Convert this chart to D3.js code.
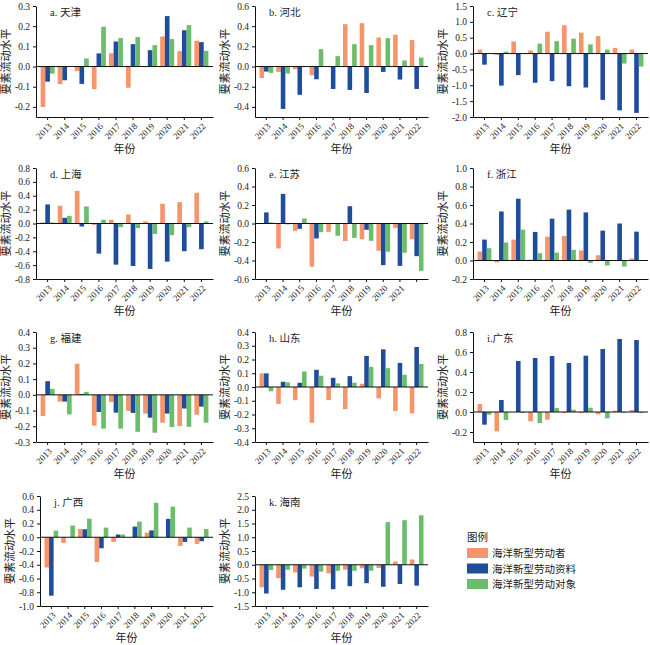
<!DOCTYPE html>
<html><head><meta charset="utf-8">
<script src="https://cdn.jsdelivr.net/npm/d3@7"></script>
<style>
body{margin:0;background:#fff;}
svg text{font-family:"Liberation Serif","Noto Sans CJK SC",serif;fill:#222;}
</style></head>
<body><svg id="chart" width="650" height="645"></svg>
<script>
const years = ["2013","2014","2015","2016","2017","2018","2019","2020","2021","2022"];
const seriesNames = ["海洋新型劳动者","海洋新型劳动资料","海洋新型劳动对象"];
const colors = ["#f4956b","#1f4d9b","#6bbd6b"];
const panelTitles = ["a. 天津","b. 河北","c. 辽宁","d. 上海","e. 江苏","f. 浙江","g. 福建","h. 山东","i.广东","j. 广西","k. 海南"];

// [劳动者, 劳动资料, 劳动对象] per year
const tianjin = [
  [-0.20,-0.087,-0.022,-0.112,0.066,-0.105,0.0,0.149,0.076,0.128],
  [-0.075,-0.068,-0.086,0.065,0.124,0.111,0.081,0.25,0.18,0.121],
  [-0.035,0.0,0.04,0.197,0.141,0.146,0.106,0.136,0.205,0.078]];
const hebei = [
  [-0.113,-0.053,-0.026,-0.086,0.0,0.42,0.43,0.288,0.315,0.262],
  [-0.05,-0.42,-0.28,-0.126,-0.222,-0.232,-0.262,-0.053,-0.129,-0.222],
  [-0.063,-0.07,0.0,0.172,0.103,0.222,0.212,0.281,0.06,0.089]];
const liaoning = [
  [0.125,-0.04,0.38,0.095,0.69,0.89,0.66,0.55,0.18,0.125],
  [-0.35,-1.01,-0.68,-0.92,-0.87,-1.03,-1.07,-1.46,-1.79,-1.87],
  [0.0,0.06,0.0,0.315,0.39,0.47,0.29,0.125,-0.315,-0.41]];
const shanghai = [
  [0.015,0.255,0.47,-0.02,0.053,0.13,0.03,0.284,0.308,0.443],
  [0.275,0.082,-0.043,-0.434,-0.593,-0.612,-0.655,-0.55,-0.40,-0.371],
  [0.015,0.11,0.245,0.053,-0.053,-0.067,-0.15,-0.169,-0.053,0.03]];
const jiangsu = [
  [0.0,-0.27,-0.08,-0.468,-0.09,-0.19,-0.17,-0.295,-0.047,-0.17],
  [0.12,0.32,-0.058,-0.162,0.0,0.187,-0.068,-0.45,-0.458,-0.353],
  [0.012,-0.01,0.054,-0.094,-0.133,-0.155,-0.187,-0.306,-0.317,-0.512]];
const zhejiang = [
  [0.097,-0.02,0.226,0.01,0.258,0.266,0.108,0.057,0.007,0.022],
  [0.226,0.53,0.668,0.309,0.452,0.55,0.52,0.323,0.40,0.312],
  [0.133,0.194,0.334,0.079,0.086,0.115,-0.025,-0.054,-0.065,0.0]];
const fujian = [
  [-0.134,-0.043,0.198,-0.196,-0.045,-0.102,-0.119,-0.177,-0.198,-0.126],
  [0.087,-0.043,0.006,-0.109,-0.113,-0.115,-0.145,-0.119,-0.087,-0.075],
  [0.038,-0.124,0.019,-0.215,-0.215,-0.235,-0.241,-0.205,-0.203,-0.177]];
const shandong = [
  [0.099,-0.123,-0.096,-0.26,-0.094,-0.161,0.024,-0.082,-0.175,-0.192],
  [0.099,0.038,0.031,0.125,0.067,0.079,0.226,0.274,0.175,0.291],
  [-0.031,0.034,0.113,0.082,0.026,0.031,0.147,0.137,0.089,0.168]];
const guangdong = [
  [0.08,-0.193,0.0,-0.093,-0.077,-0.01,-0.01,-0.023,0.013,0.02],
  [-0.127,0.12,0.51,0.54,0.56,0.49,0.563,0.63,0.73,0.72],
  [-0.027,-0.08,-0.01,-0.11,0.04,0.023,0.043,-0.063,-0.007,-0.01]];
const guangxi = [
  [-0.44,-0.082,0.12,-0.36,-0.068,-0.005,0.068,0.0,-0.126,-0.097],
  [-0.85,0.0,0.116,-0.16,0.04,0.155,0.10,0.267,-0.068,-0.058],
  [0.097,0.17,0.27,0.14,0.04,0.228,0.50,0.446,0.14,0.12]];
const hainan = [
  [-0.82,-0.49,-0.28,-0.43,-0.31,-0.18,-0.13,-0.12,0.12,0.19],
  [-1.045,-0.91,-0.82,-0.88,-0.89,-0.78,-0.67,-0.80,-0.70,-0.76],
  [-0.19,-0.18,-0.14,-0.25,-0.22,-0.22,-0.22,1.55,1.62,1.80]];

const panelData = [tianjin,hebei,liaoning,shanghai,jiangsu,zhejiang,fujian,shandong,guangdong,guangxi,hainan];
const yDomains = [[-0.25,0.3],[-0.5,0.6],[-2,1.5],[-0.8,0.8],[-0.6,0.6],[-0.2,1.0],[-0.3,0.4],[-0.4,0.4],[-0.3,0.8],[-1.0,0.6],[-1.5,2.5]];
const yTicks = [
  [-0.2,-0.1,0,0.1,0.2,0.3],
  [-0.4,-0.2,0,0.2,0.4,0.6],
  [-2,-1.5,-1,-0.5,0,0.5,1,1.5],
  [-0.8,-0.6,-0.4,-0.2,0,0.2,0.4,0.6,0.8],
  [-0.6,-0.4,-0.2,0,0.2,0.4,0.6],
  [-0.2,0,0.2,0.4,0.6,0.8,1.0],
  [-0.3,-0.2,-0.1,0,0.1,0.2,0.3,0.4],
  [-0.4,-0.3,-0.2,-0.1,0,0.1,0.2,0.3,0.4],
  [-0.2,0,0.2,0.4,0.6,0.8],
  [-1.0,-0.8,-0.6,-0.4,-0.2,0,0.2,0.4,0.6],
  [-1.5,-1,-0.5,0,0.5,1,1.5,2,2.5]];
const yearLabelsHidden = {4:["2022"]};

const colLeft = [36,255,473], colRight = [213,428,648];
const rowTop = [6,168,332,496], rowBottom = [117,279,442,606];

const svg = d3.select("#chart");
const fmt = v => { const s = (Math.abs(v)<1e-9?0:v).toFixed(1); return s.replace("\u2212","-"); };

panelData.forEach((data,i)=>{
  const r = Math.floor(i/3), c = i%3;
  const left = (i===9) ? 40 : colLeft[c];
  const right = colRight[c], top = rowTop[r], bottom = rowBottom[r];
  const g = svg.append("g");
  const x = d3.scaleBand().domain(years).range([left,right]).paddingInner(0.18).paddingOuter(0.27);
  const xs = d3.scaleBand().domain([0,1,2]).range([0,x.bandwidth()]);
  const y = d3.scaleLinear().domain(yDomains[i]).range([bottom,top]);

  // bars
  data.forEach((vals,s)=>{
    g.selectAll(null).data(vals.map((v,k)=>({v,year:years[k]}))).enter().append("rect")
      .attr("x",d=>x(d.year)+xs(s))
      .attr("width",xs.bandwidth())
      .attr("y",d=>Math.min(y(d.v),y(0)))
      .attr("height",d=>Math.abs(y(d.v)-y(0)))
      .attr("fill",colors[s]);
  });
  // zero line
  g.append("line").attr("x1",left).attr("x2",right).attr("y1",y(0)).attr("y2",y(0))
    .attr("stroke","#111").attr("stroke-width",1);

  // y axis
  const ya = g.append("g").attr("transform",`translate(${left},0)`)
    .call(d3.axisLeft(y).tickValues(yTicks[i]).tickFormat(fmt).tickSize(3).tickSizeOuter(0));
  ya.select(".domain").attr("stroke","#111");
  ya.selectAll(".tick line").attr("stroke","#111");
  ya.selectAll("text").attr("font-size","9.5px").attr("fill","#222");

  // x axis
  const hidden = yearLabelsHidden[i] || [];
  const xa = g.append("g").attr("transform",`translate(0,${bottom})`)
    .call(d3.axisBottom(x).tickSize(3).tickSizeOuter(0).tickFormat(d=>hidden.includes(d)?"":d));
  xa.select(".domain").attr("stroke","#111");
  xa.selectAll(".tick line").attr("stroke","#111");
  xa.selectAll("text").attr("font-size","9px").attr("fill","#222")
    .attr("text-anchor","end").attr("dy","0.3em").attr("y",0)
    .attr("transform","translate(3,8) rotate(-45)");

  // labels
  g.append("text").attr("x",(left+right)/2).attr("y",bottom+36).attr("text-anchor","middle")
    .attr("font-size","11px").text("年份");
  g.append("text").attr("transform",`translate(${left-26},${(top+bottom)/2}) rotate(-90)`)
    .attr("text-anchor","middle").attr("font-size","11px").text("要素流动水平");
  g.append("text").attr("x",left+14).attr("y",top+10).attr("font-size","10.5px").text(panelTitles[i]);
});

// legend
const lg = svg.append("g").attr("transform","translate(467,0)");
lg.append("text").attr("x",0).attr("y",541).attr("font-size","10.5px").text("图例");
seriesNames.forEach((n,k)=>{
  const yy = 548 + k*15.5;
  lg.append("rect").attr("x",0).attr("y",yy).attr("width",21).attr("height",10).attr("fill",colors[k]);
  lg.append("text").attr("x",25).attr("y",yy+9).attr("font-size","10.5px").text(n);
});
</script></body></html>
